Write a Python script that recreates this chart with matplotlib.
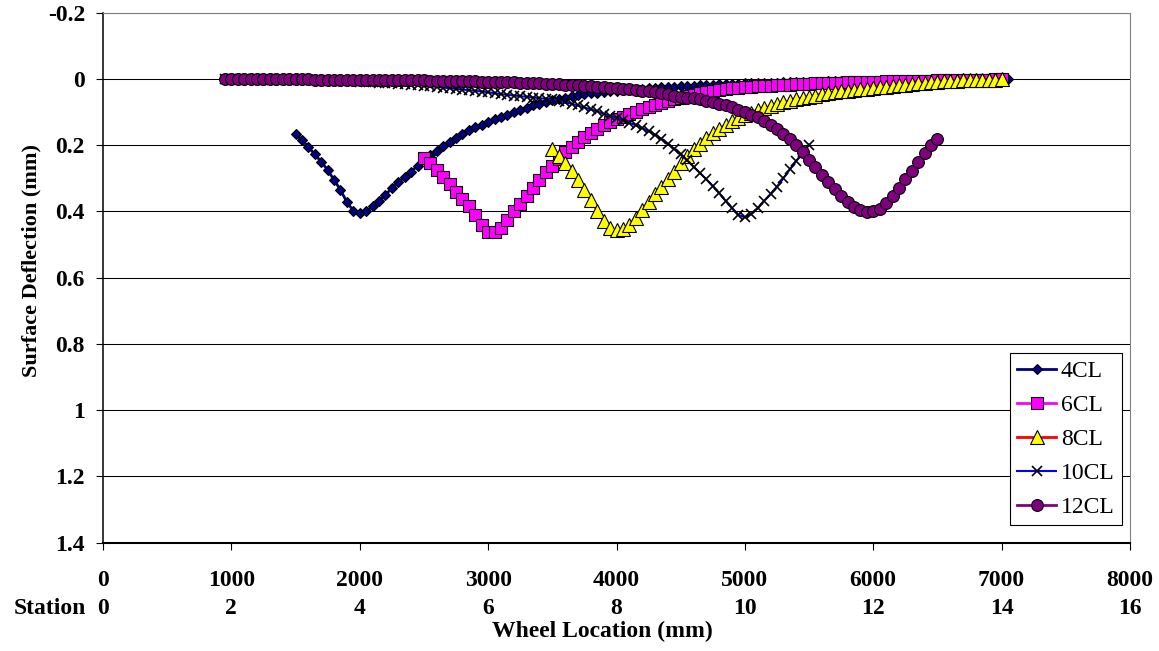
import numpy as np
import matplotlib
matplotlib.use('Agg')
import matplotlib.pyplot as plt

plt.rcParams['font.family'] = ['Liberation Serif', 'DejaVu Serif']

# Wheel location grid (mm): one reading every 50 mm
STEP = 50

# 4CL: gauge at 2000 mm
x_4cl = np.arange(1500, 7050 + 1, STEP)
d_4cl = [0.165, 0.185, 0.205, 0.228, 0.250, 0.275, 0.305, 0.335, 0.372, 0.398, 0.405,
         0.400, 0.385, 0.368, 0.350, 0.330, 0.312, 0.295, 0.280, 0.262, 0.245,
         0.230, 0.216, 0.202, 0.190, 0.177, 0.165, 0.155, 0.146, 0.138, 0.130,
         0.122, 0.115, 0.108, 0.100, 0.094, 0.087, 0.080, 0.075, 0.070, 0.065,
         0.060, 0.056, 0.052, 0.049, 0.046, 0.043, 0.041, 0.039, 0.037, 0.035,
         0.033, 0.032, 0.030, 0.029, 0.027, 0.026, 0.025, 0.024, 0.023, 0.022,
         0.021, 0.020, 0.019, 0.018, 0.017, 0.016, 0.015, 0.015, 0.014, 0.013,
         0.013, 0.012, 0.012, 0.011, 0.011, 0.010, 0.010, 0.009, 0.009, 0.008,
         0.008, 0.008, 0.007, 0.007, 0.007, 0.006, 0.006, 0.006, 0.005, 0.005,
         0.005, 0.005, 0.004, 0.004, 0.004, 0.004, 0.003, 0.003, 0.003, 0.003,
         0.003, 0.002, 0.002, 0.002, 0.002, 0.002, 0.001, 0.001, 0.001, 0.001, 0.001]

# 6CL: gauge at 3000 mm
x_6cl = np.arange(2500, 7000 + 1, STEP)
d_6cl = [0.238, 0.255, 0.275, 0.296, 0.318, 0.340, 0.362, 0.385, 0.412, 0.440, 0.462,
         0.462, 0.450, 0.425, 0.400, 0.377, 0.352, 0.328, 0.305, 0.282, 0.262,
         0.242, 0.222, 0.205, 0.190, 0.176, 0.163, 0.151, 0.140, 0.131, 0.122,
         0.114, 0.106, 0.099, 0.092, 0.086, 0.080, 0.074, 0.068, 0.062, 0.057,
         0.052, 0.047, 0.043, 0.039, 0.035, 0.032, 0.030, 0.028, 0.026, 0.024,
         0.023, 0.022, 0.021, 0.020, 0.019, 0.018, 0.017, 0.016, 0.015, 0.014,
         0.013, 0.013, 0.012, 0.011, 0.011, 0.010, 0.010, 0.009, 0.009, 0.008,
         0.008, 0.007, 0.007, 0.006, 0.006, 0.006, 0.005, 0.005, 0.005, 0.004,
         0.004, 0.004, 0.003, 0.003, 0.003, 0.002, 0.002, 0.002, 0.001, 0.001]

# 8CL: gauge at 4000 mm
x_8cl = np.arange(3500, 7000 + 1, STEP)
d_8cl = [0.210, 0.232, 0.255, 0.278, 0.305, 0.336, 0.365, 0.398, 0.428, 0.450, 0.457,
         0.452, 0.440, 0.420, 0.395, 0.372, 0.348, 0.325, 0.303, 0.280, 0.255,
         0.232, 0.212, 0.195, 0.178, 0.164, 0.151, 0.139, 0.128, 0.119, 0.110,
         0.102, 0.095, 0.089, 0.083, 0.077, 0.071, 0.066, 0.062, 0.058, 0.054,
         0.050, 0.046, 0.043, 0.040, 0.037, 0.035, 0.033, 0.031, 0.029, 0.027,
         0.025, 0.023, 0.021, 0.019, 0.017, 0.015, 0.013, 0.011, 0.010, 0.008,
         0.007, 0.006, 0.005, 0.004, 0.004, 0.003, 0.003, 0.002, 0.002, 0.001]

# 10CL: gauge at 5000 mm
x_10cl = np.arange(950, 5500 + 1, STEP)
d_10cl = [0.001, 0.001, 0.001, 0.001, 0.002, 0.002, 0.002, 0.002, 0.002, 0.003, 0.003, 0.003,
          0.004, 0.004, 0.004, 0.005, 0.005, 0.006, 0.006, 0.007, 0.007, 0.008,
          0.009, 0.010, 0.011, 0.012, 0.013, 0.014, 0.015, 0.017, 0.018, 0.020,
          0.022, 0.024, 0.026, 0.028, 0.030, 0.032, 0.034, 0.036, 0.038, 0.040,
          0.043, 0.046, 0.048, 0.050, 0.052, 0.054, 0.056, 0.058, 0.060, 0.062,
          0.066, 0.070, 0.075, 0.080, 0.086, 0.092, 0.098, 0.105, 0.111, 0.118,
          0.125, 0.132, 0.140, 0.148, 0.158, 0.168, 0.181, 0.195, 0.211, 0.228,
          0.246, 0.265, 0.284, 0.303, 0.324, 0.345, 0.368, 0.390, 0.410, 0.418,
          0.408, 0.390, 0.368, 0.347, 0.325, 0.300, 0.273, 0.248, 0.222, 0.198]

# 12CL: gauge at 6000 mm
x_12cl = np.arange(950, 6500 + 1, STEP)
d_12cl = [0.000, 0.000, 0.000, 0.000, 0.000, 0.001, 0.001, 0.001, 0.001, 0.001, 0.001, 0.001,
          0.001, 0.001, 0.002, 0.002, 0.002, 0.002, 0.002, 0.002, 0.002, 0.002,
          0.002, 0.003, 0.003, 0.003, 0.003, 0.003, 0.004, 0.004, 0.004, 0.004,
          0.005, 0.005, 0.005, 0.006, 0.006, 0.006, 0.007, 0.007, 0.008, 0.008,
          0.009, 0.009, 0.010, 0.010, 0.011, 0.012, 0.012, 0.013, 0.014, 0.015,
          0.016, 0.017, 0.018, 0.019, 0.020, 0.021, 0.023, 0.024, 0.026, 0.027,
          0.029, 0.031, 0.033, 0.035, 0.037, 0.040, 0.043, 0.046, 0.050, 0.054,
          0.056, 0.059, 0.062, 0.066, 0.070, 0.075, 0.080, 0.086, 0.093, 0.100,
          0.108, 0.116, 0.126, 0.138, 0.150, 0.165, 0.182, 0.200, 0.222, 0.244,
          0.266, 0.290, 0.312, 0.333, 0.354, 0.372, 0.387, 0.397, 0.402, 0.400,
          0.392, 0.375, 0.352, 0.330, 0.303, 0.277, 0.250, 0.224, 0.200, 0.180]

# Axis ticks
wheel_ticks = [0, 1000, 2000, 3000, 4000, 5000, 6000, 7000, 8000]
station_ticks = [0, 2, 4, 6, 8, 10, 12, 14, 16]
y_ticks = [-0.2, 0, 0.2, 0.4, 0.6, 0.8, 1.0, 1.2, 1.4]
y_tick_labels = ['-0.2', '0', '0.2', '0.4', '0.6', '0.8', '1', '1.2', '1.4']

series = [
    ('4CL', x_4cl, d_4cl, dict(color='#000080', marker='D', markersize=5,
                               markerfacecolor='#000080', markeredgecolor='black', lw=2)),
    ('6CL', x_6cl, d_6cl, dict(color='#FF00FF', marker='s', markersize=8.5,
                               markerfacecolor='#FF00FF', markeredgecolor='black', lw=2)),
    ('8CL', x_8cl, d_8cl, dict(color='#FF0000', marker='^', markersize=9.5,
                               markerfacecolor='#FFFF00', markeredgecolor='black', lw=2)),
    ('10CL', x_10cl, d_10cl, dict(color='#0000FF', marker='x', markersize=7,
                                  markeredgecolor='black', markeredgewidth=1.2, lw=1.5)),
    ('12CL', x_12cl, d_12cl, dict(color='#800080', marker='o', markersize=8.5,
                                  markerfacecolor='#800080', markeredgecolor='black', lw=2)),
]

fig = plt.figure(figsize=(11.59, 6.51), dpi=100)
ax = fig.add_axes([103 / 1159, 1 - 542.7 / 651, 1027 / 1159, 530 / 651])

for name, xs, ds, style in series:
    style.setdefault('markeredgewidth', 0.8)
    ax.plot(xs, ds, label=name, **style)

ax.set_xlim(0, 8000)
ax.set_ylim(1.4, -0.2)

ax.set_yticks(y_ticks)
ax.set_yticklabels(y_tick_labels, fontsize=17, fontweight='bold')
ax.set_xticks(wheel_ticks)
ax.set_xticklabels([f'{w}\n{s}' for w, s in zip(wheel_ticks, station_ticks)],
                   fontsize=17, fontweight='bold', linespacing=1.45)
ax.tick_params(axis='y', direction='out', length=5, width=0.8, pad=8, color='black')
ax.tick_params(axis='x', direction='out', length=5, width=0.8, pad=14.5, color='black')

ax.grid(True, axis='y', color='black', linewidth=0.75)
ax.set_axisbelow(True)

ax.spines['left'].set_color('black')
ax.spines['left'].set_linewidth(1.1)
ax.spines['bottom'].set_color('black')
ax.spines['bottom'].set_linewidth(1.5)
ax.spines['top'].set_color('#808080')
ax.spines['top'].set_linewidth(0.8)
ax.spines['right'].set_color('#808080')
ax.spines['right'].set_linewidth(0.8)

ax.set_xlabel('Wheel Location (mm)', fontsize=17, fontweight='bold')
ax.xaxis.set_label_coords(0.486, -0.1477)
ax.set_ylabel('Surface Deflection (mm)', fontsize=16, fontweight='bold')
ax.yaxis.set_label_coords(-0.06, 0.533)

fig.text(86 / 1159, 1 - 614 / 651, 'Station', fontsize=17, fontweight='bold',
         ha='right', va='baseline')

leg = ax.legend(loc='lower right', bbox_to_anchor=(0.992, 0.033), fontsize=17,
                frameon=True, fancybox=False, edgecolor='black', framealpha=1,
                borderaxespad=0, handlelength=1.65, handletextpad=0.2,
                labelspacing=0.53, borderpad=0.3)
leg.get_frame().set_linewidth(0.8)

fig.savefig('out.png', dpi=100, facecolor='white')
